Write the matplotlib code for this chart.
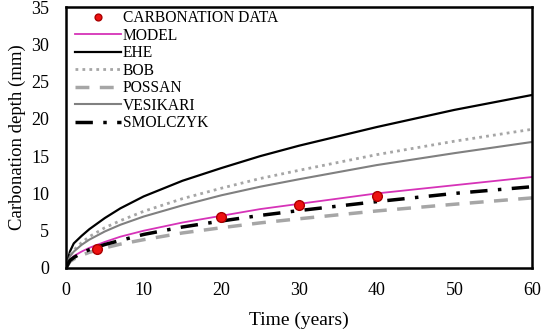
import matplotlib.pyplot as plt
import numpy as np

# значення
t = [0, 0.5, 1, 2, 3, 5, 7, 10, 15, 20, 25, 30, 40, 50, 60]
ehe = [0, 2.2, 3.3, 4.3, 5.2, 6.7, 8.0, 9.6, 11.7, 13.4, 15.0, 16.4, 18.9, 21.2, 23.2]
bob = [0, 1.7, 2.4, 3.4, 4.2, 5.4, 6.35, 7.6, 9.3, 10.7, 12.0, 13.1, 15.2, 17.0, 18.6]
vesikari = [0, 1.55, 2.2, 3.1, 3.8, 4.9, 5.8, 6.9, 8.4, 9.75, 10.9, 11.9, 13.8, 15.4, 16.9]
model = [0, 1.1, 1.6, 2.2, 2.7, 3.5, 4.2, 5.0, 6.1, 7.0, 7.9, 8.6, 10.0, 11.1, 12.2]
smolczyk = [0, 1.0, 1.4, 2.0, 2.45, 3.15, 3.7, 4.5, 5.5, 6.3, 7.05, 7.7, 8.9, 10.0, 10.9]
possan = [0, 0.85, 1.2, 1.7, 2.1, 2.7, 3.2, 3.8, 4.7, 5.4, 6.05, 6.6, 7.65, 8.55, 9.4]

data_t = [4, 20, 30, 40]
data_d = [2.5, 6.9, 8.4, 9.6]

plt.rcParams['font.family'] = ['Liberation Serif', 'DejaVu Serif']

fig = plt.figure(figsize=(5.43, 3.3), dpi=100)
ax = fig.add_axes([66 / 543, 1 - 268 / 330, (532 - 66) / 543, (268 - 7) / 330])

ax.plot(data_t, data_d, 'o', color='#ee1111', markeredgecolor='#aa0000',
        markersize=7, label='CARBONATION DATA', zorder=10)
ax.plot(t, model, color='#d633b8', lw=1.3, label='MODEL')
ax.plot(t, ehe, color='black', lw=1.6, label='EHE')
ax.plot(t, bob, color='#a6a6a6', lw=2, ls=(0, (1, 1.5)), label='BOB')
ax.plot(t, possan, color='#a6a6a6', lw=2.5, ls=(0, (4, 3)), label='POSSAN')
ax.plot(t, vesikari, color='#808080', lw=1.5, label='VESIKARI')
ax.plot(t, smolczyk, color='black', lw=2.5, ls=(0, (5, 3, 1, 3)), label='SMOLCZYK')

ax.set_xlim(0, 60)
ax.set_ylim(0, 35)
ax.set_xticks(np.arange(0, 61, 10))
ax.set_yticks(np.arange(0, 36, 5))
ax.tick_params(length=0, labelsize=13)
ax.tick_params(axis='x', pad=10)
ax.tick_params(axis='y', pad=12)
for s in ax.spines.values():
    s.set_linewidth(1.8)

ax.set_xlabel('Time (years)', fontsize=14, labelpad=9)
ax.set_ylabel('Carbonation depth (mm)', fontsize=13.5, labelpad=4)

leg = ax.legend(loc='upper left', frameon=False, fontsize=11.2, handlelength=3.0,
                handletextpad=0.1, labelspacing=0.10, borderaxespad=0.0,
                bbox_to_anchor=(0.005, 1.012), markerscale=0.7)

plt.savefig('out.png', dpi=100)
